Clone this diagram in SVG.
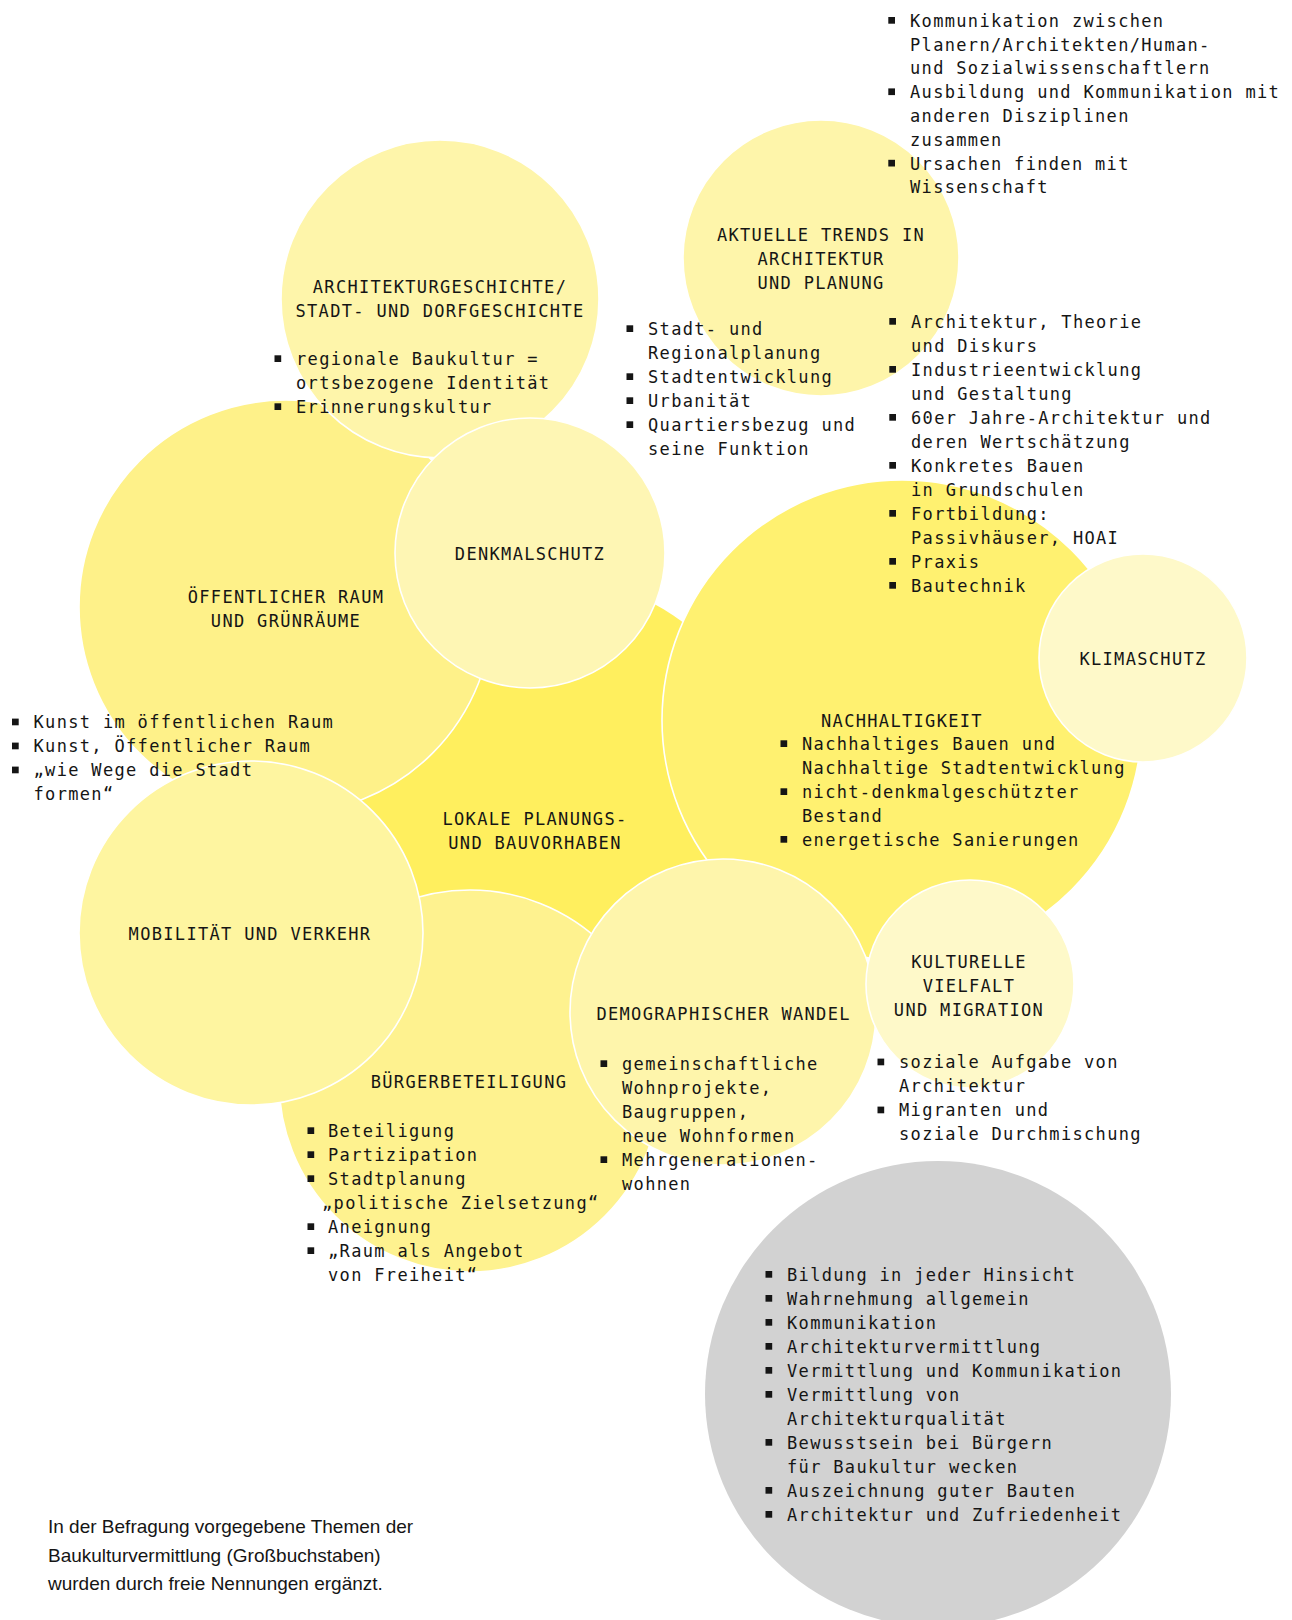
<svg xmlns="http://www.w3.org/2000/svg" xmlns:xlink="http://www.w3.org/1999/xlink" width="1292" height="1620" viewBox="0 0 1292 1620">
<style>
.c{stroke:#fff;stroke-width:1.6}
.t{font-family:"DejaVu Sans Mono","Liberation Mono",monospace;font-size:17px;letter-spacing:1.33px;fill:#151515}
.h{text-anchor:middle}
.f{font-family:"Liberation Sans","Noto Sans",sans-serif;font-size:19px;fill:#151515}
</style>
<defs>
<rect id="b" width="6.7" height="6.7" fill="#151515"/>
</defs>
<rect width="1292" height="1620" fill="#fff"/>

<g id="lokale">
<circle cx="540" cy="815" r="240" fill="#FFEF5E"/>
</g>
<g id="nachhaltigkeit">
<circle class="c" cx="902" cy="720" r="240" fill="#FFF170"/>
</g>
<g id="oeffentlicher-raum">
<circle class="c" cx="286" cy="607" r="207" fill="#FEF189"/>
</g>
<g id="architekturgeschichte">
<circle class="c" cx="440" cy="299" r="159" fill="#FEF5AA"/>
</g>
<g id="denkmalschutz">
<circle class="c" cx="530" cy="553" r="135" fill="#FEF6B4"/>
</g>
<g id="buergerbeteiligung">
<circle class="c" cx="470" cy="1081" r="191" fill="#FEF28F"/>
</g>
<g id="mobilitaet">
<circle class="c" cx="251" cy="933" r="172" fill="#FEF5A0"/>
</g>
<g id="demographischer-wandel">
<circle class="c" cx="723" cy="1012" r="153" fill="#FEF5AB"/>
</g>
<g id="kulturelle-vielfalt">
<circle class="c" cx="970" cy="984" r="104" fill="#FEF9C9"/>
</g>
<g id="klimaschutz">
<circle class="c" cx="1143" cy="658" r="104" fill="#FEF9C9"/>
</g>
<g id="aktuelle-trends">
<circle class="c" cx="821" cy="258" r="138" fill="#FEF5AA"/>
</g>
<g id="vermittlung">
<circle cx="938" cy="1394" r="233" fill="#D2D2D2"/>
</g>

<!-- texts -->
<g id="text-kommunikation">
<use xlink:href="#b" x="888.3" y="17"/>
<use xlink:href="#b" x="888.3" y="88.4"/>
<use xlink:href="#b" x="888.3" y="159.8"/>
<text class="t" x="910" y="26.7">Kommunikation zwischen</text>
<text class="t" x="910" y="50.5">Planern/Architekten/Human-</text>
<text class="t" x="910" y="74.3">und Sozialwissenschaftlern</text>
<text class="t" x="910" y="98.1">Ausbildung und Kommunikation mit</text>
<text class="t" x="910" y="121.9">anderen Disziplinen</text>
<text class="t" x="910" y="145.7">zusammen</text>
<text class="t" x="910" y="169.5">Ursachen finden mit</text>
<text class="t" x="910" y="193.3">Wissenschaft</text>
</g>

<g id="text-architekturgeschichte">
<text class="t h" x="440" y="293">ARCHITEKTURGESCHICHTE/</text>
<text class="t h" x="440" y="317">STADT- UND DORFGESCHICHTE</text>
<use xlink:href="#b" x="274.5" y="355.3"/>
<use xlink:href="#b" x="274.5" y="403.3"/>
<text class="t" x="296" y="365">regionale Baukultur =</text>
<text class="t" x="296" y="389">ortsbezogene Identität</text>
<text class="t" x="296" y="413">Erinnerungskultur</text>
</g>

<g id="text-aktuelle-trends">
<text class="t h" x="821" y="240.5">AKTUELLE TRENDS IN</text>
<text class="t h" x="821" y="264.5">ARCHITEKTUR</text>
<text class="t h" x="821" y="288.5">UND PLANUNG</text>
</g>

<g id="text-stadtplanung">
<use xlink:href="#b" x="626.5" y="325.3"/>
<use xlink:href="#b" x="626.5" y="373.3"/>
<use xlink:href="#b" x="626.5" y="397.3"/>
<use xlink:href="#b" x="626.5" y="421.3"/>
<text class="t" x="648" y="335">Stadt- und</text>
<text class="t" x="648" y="359">Regionalplanung</text>
<text class="t" x="648" y="383">Stadtentwicklung</text>
<text class="t" x="648" y="407">Urbanität</text>
<text class="t" x="648" y="431">Quartiersbezug und</text>
<text class="t" x="648" y="455">seine Funktion</text>
</g>

<g id="text-architektur-theorie">
<use xlink:href="#b" x="889.3" y="318"/>
<use xlink:href="#b" x="889.3" y="366"/>
<use xlink:href="#b" x="889.3" y="414"/>
<use xlink:href="#b" x="889.3" y="462"/>
<use xlink:href="#b" x="889.3" y="510"/>
<use xlink:href="#b" x="889.3" y="558"/>
<use xlink:href="#b" x="889.3" y="582"/>
<text class="t" x="911" y="327.7">Architektur, Theorie</text>
<text class="t" x="911" y="351.7">und Diskurs</text>
<text class="t" x="911" y="375.7">Industrieentwicklung</text>
<text class="t" x="911" y="399.7">und Gestaltung</text>
<text class="t" x="911" y="423.7">60er Jahre-Architektur und</text>
<text class="t" x="911" y="447.7">deren Wertschätzung</text>
<text class="t" x="911" y="471.7">Konkretes Bauen</text>
<text class="t" x="911" y="495.7">in Grundschulen</text>
<text class="t" x="911" y="519.7">Fortbildung:</text>
<text class="t" x="911" y="543.7">Passivhäuser, HOAI</text>
<text class="t" x="911" y="567.7">Praxis</text>
<text class="t" x="911" y="591.7">Bautechnik</text>
</g>

<g id="text-denkmalschutz">
<text class="t h" x="530" y="560">DENKMALSCHUTZ</text>
</g>
<g id="text-oeffentlicher-raum">
<text class="t h" x="286" y="603.3">ÖFFENTLICHER RAUM</text>
<text class="t h" x="286" y="627.3">UND GRÜNRÄUME</text>
</g>
<g id="text-klimaschutz">
<text class="t h" x="1143" y="665">KLIMASCHUTZ</text>
</g>

<g id="text-kunst">
<use xlink:href="#b" x="12" y="718.6"/>
<use xlink:href="#b" x="12" y="742.6"/>
<use xlink:href="#b" x="12" y="766.6"/>
<text class="t" x="33.5" y="728.3">Kunst im öffentlichen Raum</text>
<text class="t" x="33.5" y="752.3">Kunst, Öffentlicher Raum</text>
<text class="t" x="33.5" y="776.3">„wie Wege die Stadt</text>
<text class="t" x="33.5" y="800.3">formen“</text>
</g>

<g id="text-nachhaltigkeit">
<text class="t h" x="902" y="726.7">NACHHALTIGKEIT</text>
<use xlink:href="#b" x="780.5" y="740.3"/>
<use xlink:href="#b" x="780.5" y="788.3"/>
<use xlink:href="#b" x="780.5" y="836"/>
<text class="t" x="802" y="750">Nachhaltiges Bauen und</text>
<text class="t" x="802" y="774">Nachhaltige Stadtentwicklung</text>
<text class="t" x="802" y="798">nicht-denkmalgeschützter</text>
<text class="t" x="802" y="822">Bestand</text>
<text class="t" x="802" y="845.7">energetische Sanierungen</text>
</g>

<g id="text-lokale">
<text class="t h" x="535" y="825">LOKALE PLANUNGS-</text>
<text class="t h" x="535" y="849">UND BAUVORHABEN</text>
</g>
<g id="text-mobilitaet">
<text class="t h" x="250" y="940">MOBILITÄT UND VERKEHR</text>
</g>

<g id="text-buergerbeteiligung">
<text class="t h" x="469" y="1088">BÜRGERBETEILIGUNG</text>
<use xlink:href="#b" x="307.5" y="1127.3"/>
<use xlink:href="#b" x="307.5" y="1151.3"/>
<use xlink:href="#b" x="307.5" y="1175.3"/>
<use xlink:href="#b" x="307.5" y="1223.3"/>
<use xlink:href="#b" x="307.5" y="1247.3"/>
<text class="t" x="328" y="1137">Beteiligung</text>
<text class="t" x="328" y="1161">Partizipation</text>
<text class="t" x="328" y="1185">Stadtplanung</text>
<text class="t" x="322" y="1209">„politische Zielsetzung“</text>
<text class="t" x="328" y="1233">Aneignung</text>
<text class="t" x="328" y="1257">„Raum als Angebot</text>
<text class="t" x="328" y="1281">von Freiheit“</text>
</g>

<g id="text-demographischer-wandel">
<text class="t h" x="723.6" y="1020">DEMOGRAPHISCHER WANDEL</text>
<use xlink:href="#b" x="600.5" y="1060.3"/>
<use xlink:href="#b" x="600.5" y="1156.3"/>
<text class="t" x="622" y="1070">gemeinschaftliche</text>
<text class="t" x="622" y="1094">Wohnprojekte,</text>
<text class="t" x="622" y="1118">Baugruppen,</text>
<text class="t" x="622" y="1142">neue Wohnformen</text>
<text class="t" x="622" y="1166">Mehrgenerationen-</text>
<text class="t" x="622" y="1190">wohnen</text>
</g>

<g id="text-kulturelle-vielfalt">
<text class="t h" x="969" y="968">KULTURELLE</text>
<text class="t h" x="969" y="992">VIELFALT</text>
<text class="t h" x="969" y="1016">UND MIGRATION</text>
<use xlink:href="#b" x="877.5" y="1058.6"/>
<use xlink:href="#b" x="877.5" y="1106.6"/>
<text class="t" x="899" y="1068.3">soziale Aufgabe von</text>
<text class="t" x="899" y="1092.3">Architektur</text>
<text class="t" x="899" y="1116.3">Migranten und</text>
<text class="t" x="899" y="1140.3">soziale Durchmischung</text>
</g>

<g id="text-vermittlung">
<use xlink:href="#b" x="765.5" y="1271"/>
<use xlink:href="#b" x="765.5" y="1295"/>
<use xlink:href="#b" x="765.5" y="1319"/>
<use xlink:href="#b" x="765.5" y="1343"/>
<use xlink:href="#b" x="765.5" y="1367"/>
<use xlink:href="#b" x="765.5" y="1391"/>
<use xlink:href="#b" x="765.5" y="1439"/>
<use xlink:href="#b" x="765.5" y="1487"/>
<use xlink:href="#b" x="765.5" y="1511"/>
<text class="t" x="787" y="1280.7">Bildung in jeder Hinsicht</text>
<text class="t" x="787" y="1304.7">Wahrnehmung allgemein</text>
<text class="t" x="787" y="1328.7">Kommunikation</text>
<text class="t" x="787" y="1352.7">Architekturvermittlung</text>
<text class="t" x="787" y="1376.7">Vermittlung und Kommunikation</text>
<text class="t" x="787" y="1400.7">Vermittlung von</text>
<text class="t" x="787" y="1424.7">Architekturqualität</text>
<text class="t" x="787" y="1448.7">Bewusstsein bei Bürgern</text>
<text class="t" x="787" y="1472.7">für Baukultur wecken</text>
<text class="t" x="787" y="1496.7">Auszeichnung guter Bauten</text>
<text class="t" x="787" y="1520.7">Architektur und Zufriedenheit</text>
</g>

<g id="footnote">
<text class="f" x="48" y="1533.3">In der Befragung vorgegebene Themen der</text>
<text class="f" x="48" y="1561.7">Baukulturvermittlung (Großbuchstaben)</text>
<text class="f" x="48" y="1590">wurden durch freie Nennungen ergänzt.</text>
</g>
</svg>
